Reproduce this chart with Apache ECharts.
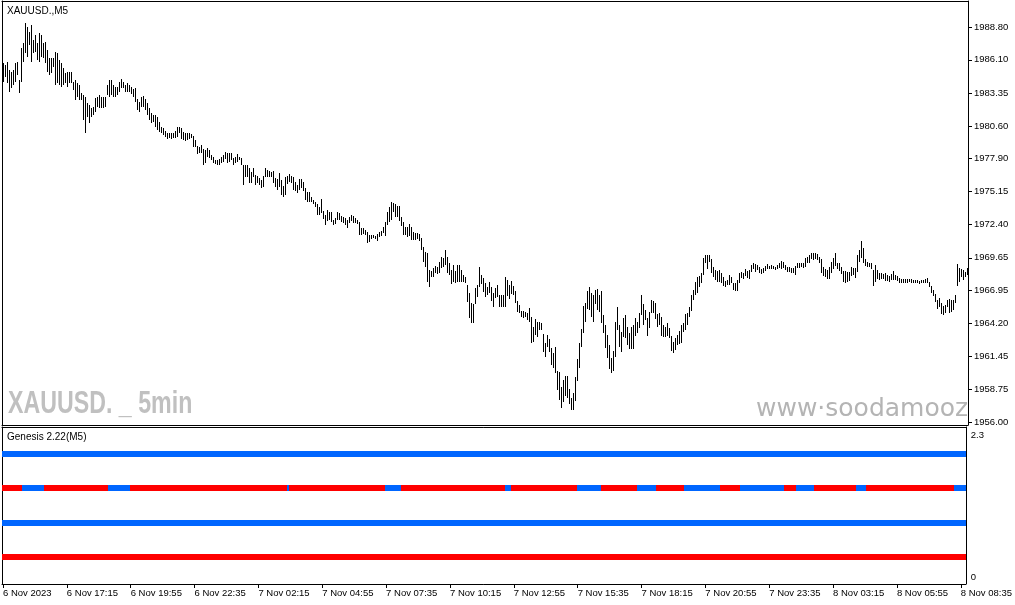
<!DOCTYPE html>
<html><head><meta charset="utf-8">
<script src="https://cdn.jsdelivr.net/npm/echarts@6/dist/echarts.min.js"></script>
<style>html,body{margin:0;padding:0;background:#fff}#c{width:1015px;height:605px}</style>
</head><body><div id="c"></div>
<script>
const symbolTitle = 'XAUUSD.,M5';
const indicatorTitle = 'Genesis 2.22(M5)';
const watermarkLeft = 'XAUUSD. _ 5min';
const watermarkRight = 'www\u00b7soodamooz';

const xTickEvery = 32;
const xTickLabels = ['6 Nov 2023','6 Nov 17:15','6 Nov 19:55','6 Nov 22:35','7 Nov 02:15','7 Nov 04:55',
  '7 Nov 07:35','7 Nov 10:15','7 Nov 12:55','7 Nov 15:35','7 Nov 18:15','7 Nov 20:55','7 Nov 23:35',
  '8 Nov 03:15','8 Nov 05:55','8 Nov 08:35'];
const priceTicks = [1956.00,1958.75,1961.45,1964.20,1966.95,1969.65,1972.40,1975.15,1977.90,1980.60,1983.35,1986.10,1988.80];
const priceMin = 1955.75, priceMax = 1990.99;
const indicatorTicks = [0, 2.3];

const barHigh = [
1985.81,1985.67,1985.95,1985.25,1985.11,1985.25,1985.81,1985.95,1984.42,1987.05,
1987.47,1989.13,1988.85,1988.44,1988.99,1987.75,1988.16,1987.47,1988.30,1988.16,
1987.47,1987.61,1986.91,1986.22,1986.22,1986.22,1986.78,1986.64,1986.08,1985.81,
1985.39,1984.98,1985.11,1985.11,1985.11,1984.28,1984.42,1984.14,1984.01,1983.31,
1983.18,1983.04,1982.48,1982.34,1982.07,1982.21,1982.90,1983.04,1983.18,1983.04,
1983.04,1983.04,1984.01,1984.42,1984.42,1984.01,1983.81,1983.87,1984.28,1984.48,
1984.28,1984.01,1984.14,1984.01,1983.81,1983.65,1983.73,1982.82,1982.62,1983.04,
1983.09,1982.82,1982.48,1982.07,1981.65,1981.51,1981.51,1981.37,1980.96,1980.54,
1980.41,1980.21,1979.99,1979.99,1980.05,1979.99,1980.21,1980.54,1980.54,1980.41,
1980.13,1979.99,1980.05,1979.99,1979.93,1979.77,1979.44,1978.94,1978.88,1979.02,
1978.66,1978.60,1978.74,1978.60,1978.19,1978.05,1977.77,1977.77,1977.83,1978.00,
1978.19,1978.47,1978.38,1978.38,1978.38,1977.91,1978.00,1978.27,1978.05,1977.91,
1977.36,1977.36,1977.36,1977.08,1976.80,1977.08,1976.53,1976.44,1976.25,1976.11,
1976.44,1977.08,1976.94,1976.89,1976.80,1976.89,1976.25,1976.17,1976.72,1976.11,
1975.61,1976.39,1976.44,1976.61,1976.44,1976.33,1975.97,1975.70,1976.17,1976.17,
1975.97,1975.42,1975.14,1975.14,1974.73,1974.45,1974.31,1974.12,1973.90,1974.51,
1973.56,1973.20,1973.62,1973.48,1973.48,1972.79,1972.93,1973.48,1973.34,1973.12,
1973.06,1972.93,1972.79,1973.06,1973.20,1973.12,1972.93,1972.79,1972.65,1972.10,
1972.10,1971.96,1971.82,1971.54,1971.54,1971.54,1971.46,1971.62,1971.82,1971.90,
1972.23,1972.65,1973.48,1973.90,1974.31,1974.17,1974.12,1973.95,1973.95,1973.06,
1972.65,1972.23,1972.23,1972.46,1972.18,1971.82,1971.74,1971.68,1971.62,1971.26,
1970.57,1970.15,1970.02,1968.63,1968.58,1968.77,1968.96,1968.85,1969.32,1969.68,
1969.60,1970.29,1969.68,1969.18,1968.63,1969.05,1968.58,1969.05,1969.05,1968.63,
1968.22,1968.08,1967.38,1966.75,1965.86,1965.81,1967.11,1967.38,1968.85,1968.22,
1967.94,1967.52,1967.25,1967.66,1967.25,1966.69,1967.11,1967.38,1966.55,1966.55,
1966.55,1968.02,1967.80,1967.38,1967.74,1967.30,1966.91,1966.08,1965.72,1965.25,
1965.25,1965.17,1965.09,1965.45,1964.70,1963.92,1964.53,1964.34,1964.34,1964.25,
1963.31,1962.59,1963.23,1962.87,1962.12,1961.71,1962.26,1960.27,1960.18,1958.94,
1959.49,1959.82,1959.82,1958.71,1957.97,1958.38,1959.71,1961.21,1962.54,1963.70,
1965.64,1965.86,1966.91,1967.19,1966.69,1966.55,1966.97,1967.02,1966.55,1966.89,
1964.90,1964.07,1963.23,1962.40,1961.30,1961.93,1964.34,1965.53,1964.07,1963.51,
1964.62,1964.90,1963.93,1963.37,1963.93,1964.07,1964.62,1964.34,1965.03,1966.56,
1965.81,1965.31,1964.62,1965.17,1966.14,1966.09,1965.87,1964.98,1965.03,1964.76,
1964.07,1963.93,1964.20,1963.79,1963.15,1962.68,1962.96,1963.23,1963.59,1964.07,
1964.20,1964.98,1965.09,1965.53,1966.56,1966.97,1967.67,1968.03,1968.14,1968.36,
1969.61,1969.88,1969.88,1969.88,1969.52,1968.91,1968.64,1968.58,1968.64,1968.41,
1968.08,1967.75,1967.80,1968.22,1968.03,1967.53,1967.53,1967.80,1968.41,1968.50,
1968.36,1968.69,1968.58,1968.64,1969.05,1969.19,1969.13,1969.05,1968.86,1968.69,
1968.77,1968.97,1969.13,1968.97,1969.05,1968.97,1968.91,1969.05,1969.25,1969.41,
1969.33,1969.05,1968.91,1968.86,1968.77,1968.77,1968.97,1969.24,1969.19,1969.19,
1969.24,1969.60,1969.74,1969.88,1970.08,1970.08,1970.02,1969.96,1969.74,1969.52,
1968.91,1968.69,1968.63,1968.91,1969.33,1969.60,1970.02,1969.19,1969.24,1968.91,
1968.58,1968.58,1968.50,1968.50,1968.91,1968.77,1968.77,1969.88,1970.30,1971.07,
1970.44,1969.52,1969.33,1969.24,1969.19,1968.63,1969.05,1968.63,1968.41,1968.41,
1968.30,1968.36,1968.22,1968.14,1968.30,1968.58,1968.22,1968.14,1967.94,1967.86,
1967.86,1967.86,1967.86,1967.86,1967.86,1967.80,1967.80,1967.80,1967.75,1967.80,
1967.80,1967.86,1967.94,1967.67,1967.31,1966.97,1966.64,1966.14,1966.28,1965.86,
1965.64,1965.73,1966.14,1966.20,1966.14,1966.14,1966.56,1969.13,1968.77,1968.69,
1968.63,1968.50,1968.77
];
const barLow = [
1984.28,1984.70,1984.14,1983.45,1983.73,1984.01,1984.28,1984.84,1983.31,1984.28,
1985.95,1986.64,1986.36,1987.33,1985.95,1986.64,1986.78,1986.08,1985.95,1986.36,
1986.22,1985.81,1985.11,1984.84,1984.98,1985.53,1984.01,1984.14,1984.01,1983.87,
1984.01,1984.14,1983.87,1984.14,1984.14,1983.59,1982.76,1983.04,1982.76,1982.76,
1981.10,1979.99,1981.37,1980.82,1981.37,1981.51,1981.79,1982.21,1982.07,1982.07,
1982.07,1982.21,1983.18,1983.04,1983.18,1983.04,1983.04,1983.18,1983.45,1983.73,
1983.73,1983.45,1983.45,1983.45,1983.26,1983.04,1982.62,1981.93,1981.79,1982.21,
1982.21,1981.93,1981.51,1981.10,1980.82,1980.96,1980.54,1980.27,1980.13,1979.99,
1979.85,1979.66,1979.49,1979.57,1979.49,1979.57,1979.57,1979.71,1979.99,1979.49,
1979.44,1979.38,1979.44,1979.49,1979.57,1978.88,1978.88,1978.27,1978.33,1978.33,
1977.36,1977.50,1978.05,1977.91,1977.77,1977.50,1977.44,1977.36,1977.36,1977.50,
1977.64,1977.83,1977.50,1977.64,1977.77,1977.36,1977.50,1977.64,1977.77,1977.36,
1975.70,1976.39,1976.39,1975.83,1975.83,1976.39,1975.70,1975.83,1975.70,1975.42,
1975.50,1976.33,1976.39,1976.33,1976.33,1975.83,1975.56,1975.28,1975.50,1974.87,
1974.73,1974.87,1975.78,1975.97,1975.89,1975.28,1975.23,1975.00,1975.28,1975.42,
1975.23,1974.45,1974.31,1974.31,1974.31,1974.12,1973.90,1973.20,1973.20,1973.34,
1972.84,1972.37,1972.73,1972.79,1972.65,1972.37,1972.46,1972.79,1972.79,1972.65,
1972.57,1972.37,1972.10,1972.57,1972.73,1972.51,1972.57,1972.46,1971.54,1971.54,
1971.62,1971.54,1970.90,1970.99,1971.18,1971.26,1971.18,1971.07,1971.35,1971.46,
1971.74,1971.46,1972.37,1972.65,1972.79,1973.48,1973.06,1973.01,1972.73,1972.29,
1971.54,1971.54,1971.40,1971.46,1971.13,1971.13,1971.13,1971.18,1971.07,1970.29,
1969.32,1968.91,1967.66,1967.25,1968.08,1968.08,1968.35,1968.30,1968.41,1968.77,
1968.91,1969.05,1968.35,1968.22,1967.47,1967.66,1967.58,1967.66,1967.66,1967.66,
1967.66,1967.52,1966.00,1964.61,1964.20,1964.20,1965.81,1966.36,1967.19,1967.47,
1966.83,1966.36,1966.55,1966.75,1966.08,1965.53,1966.28,1966.36,1965.58,1965.58,
1965.58,1965.58,1966.47,1966.19,1966.64,1966.55,1965.92,1965.17,1965.03,1964.75,
1964.61,1964.70,1964.48,1964.34,1962.59,1962.68,1963.23,1963.04,1963.64,1963.64,
1961.84,1961.37,1962.26,1961.84,1960.74,1960.46,1960.10,1958.66,1957.83,1957.14,
1957.69,1958.16,1957.97,1957.50,1957.00,1957.00,1957.77,1959.43,1960.46,1962.26,
1963.37,1964.34,1965.36,1965.31,1964.75,1964.34,1965.81,1965.31,1965.17,1964.20,
1963.37,1962.13,1961.30,1960.38,1960.10,1960.27,1961.43,1963.65,1962.21,1961.85,
1963.10,1962.96,1962.40,1962.04,1962.04,1962.04,1963.15,1963.37,1963.79,1964.90,
1964.07,1964.48,1963.15,1963.79,1965.09,1965.03,1964.54,1963.93,1964.07,1963.15,
1963.10,1963.10,1963.15,1962.96,1961.93,1961.77,1961.99,1962.40,1962.49,1962.54,
1963.51,1963.65,1964.07,1964.76,1965.26,1966.14,1966.56,1966.70,1967.20,1967.53,
1968.22,1969.25,1968.69,1969.33,1968.36,1968.08,1967.80,1967.67,1967.67,1967.53,
1967.31,1967.25,1967.39,1967.39,1967.58,1966.97,1966.92,1966.92,1967.53,1967.94,
1967.86,1968.14,1967.94,1967.86,1968.50,1968.69,1968.50,1968.64,1968.41,1968.30,
1968.36,1968.58,1968.69,1968.69,1968.69,1968.69,1968.64,1968.69,1968.77,1968.69,
1968.77,1968.63,1968.50,1968.50,1968.36,1968.36,1968.22,1968.77,1968.77,1968.86,
1968.77,1968.91,1969.19,1969.19,1969.52,1969.47,1969.52,1969.47,1969.24,1968.36,
1968.14,1968.03,1967.86,1967.86,1968.36,1968.69,1968.97,1968.69,1968.58,1968.30,
1967.67,1967.58,1967.67,1967.75,1968.14,1968.22,1967.94,1968.50,1969.33,1969.60,
1969.19,1968.97,1968.91,1968.86,1968.69,1967.31,1967.67,1967.86,1967.80,1967.86,
1967.86,1967.75,1967.75,1967.67,1967.80,1967.80,1967.80,1967.75,1967.58,1967.53,
1967.58,1967.58,1967.58,1967.64,1967.58,1967.53,1967.58,1967.53,1967.47,1967.53,
1967.58,1967.53,1967.53,1967.25,1966.70,1966.47,1966.00,1965.37,1965.59,1964.98,
1964.90,1965.03,1965.53,1965.09,1965.17,1965.31,1965.86,1967.31,1967.67,1968.03,
1967.80,1968.03,1968.22
];

// Genesis indicator: four rows, each a list of runs [firstBar, lastBar, state] (1 = up/blue, 0 = down/red)
const genesisLevels = [1.9, 1.4, 0.9, 0.4];
const genesisRow1 = [[0,482,1]];
const genesisRow2 = [[0,9,0],[10,20,1],[21,52,0],[53,63,1],[64,142,0],[143,143,1],[144,191,0],[192,199,1],
  [200,251,0],[252,254,1],[255,287,0],[288,299,1],[300,317,0],[318,327,1],[328,341,0],[342,359,1],[360,369,0],
  [370,391,1],[392,397,0],[398,406,1],[407,427,0],[428,432,1],[433,476,0],[477,482,1]];
const genesisRow3 = [[0,482,1]];
const genesisRow4 = [[0,482,0]];

const FONT = 'Liberation Sans';
const UP = '#0066FF', DOWN = '#FF0000';

const n = Math.min(barHigh.length, barLow.length);
const cats = barHigh.slice(0, n).map((_, i) => String(i));
const barData = [];
for (let i = 0; i < n; i++) barData.push([i, barLow[i], barHigh[i]]);
const genesisData = [];
[genesisRow1, genesisRow2, genesisRow3, genesisRow4].forEach((row, r) => {
  row.forEach(run => genesisData.push([run[0], run[1], genesisLevels[r], run[2]]));
});

const chart = echarts.init(document.getElementById('c'), null, {renderer: 'canvas'});
const hiddenCat = (gi, pos) => ({
  type: 'category', gridIndex: gi, position: pos, data: cats, boundaryGap: true,
  axisLine: {show: true, onZero: false, lineStyle: {color: '#000', width: 1}},
  axisTick: {show: false}, axisLabel: {show: false}, splitLine: {show: false}
});
const hiddenVal = (gi, mn, mx) => ({
  type: 'value', gridIndex: gi, position: 'left', min: mn, max: mx,
  axisLine: {show: true, onZero: false, lineStyle: {color: '#000', width: 1}},
  axisTick: {show: false}, axisLabel: {show: false}, splitLine: {show: false}
});
const tickFn = (idx) => idx % xTickEvery === 0;

chart.setOption({
  animation: false,
  backgroundColor: '#fff',
  grid: [
    {left: 2, top: 1, width: 966, height: 424, show: false},
    {left: 2, top: 427, width: 966, height: 157, show: false}
  ],
  xAxis: [
    hiddenCat(0, 'bottom'),
    hiddenCat(0, 'top'),
    {
      type: 'category', gridIndex: 1, position: 'bottom', data: cats, boundaryGap: true,
      axisLine: {show: true, onZero: false, lineStyle: {color: '#000', width: 1}},
      axisTick: {show: true, alignWithLabel: true, interval: tickFn, length: 4, lineStyle: {color: '#000'}},
      axisLabel: {
        show: true, interval: tickFn, hideOverlap: false, align: 'left', margin: 4,
        fontFamily: FONT, fontSize: 9.5, color: '#000',
        formatter: (v, idx) => (idx % xTickEvery === 0 && xTickLabels[idx / xTickEvery]) || ''
      },
      splitLine: {show: false}
    },
    hiddenCat(1, 'top')
  ],
  yAxis: [
    {
      type: 'value', gridIndex: 0, position: 'right', min: priceMin, max: priceMax,
      axisLine: {show: true, onZero: false, lineStyle: {color: '#000', width: 1}},
      axisTick: {show: true, customValues: priceTicks, length: 4, lineStyle: {color: '#000'}},
      axisLabel: {show: true, customValues: priceTicks, margin: 6, fontFamily: FONT, fontSize: 9.5, color: '#000',
        formatter: v => Number(v).toFixed(2)},
      splitLine: {show: false}
    },
    hiddenVal(0, priceMin, priceMax),
    {
      type: 'value', gridIndex: 1, position: 'right', min: indicatorTicks[0], max: indicatorTicks[1],
      axisLine: {show: true, onZero: false, lineStyle: {color: '#000', width: 1}},
      axisTick: {show: false},
      axisLabel: {show: true, customValues: indicatorTicks, margin: 5, fontFamily: FONT, fontSize: 9.5, color: '#000',
        formatter: v => (v === indicatorTicks[0] ? '{lo|' : '{hi|') + v + '}',
        rich: {
          hi: {padding: [16, 0, 0, 0], fontFamily: FONT, fontSize: 9.5, color: '#000'},
          lo: {padding: [0, 0, 14, 0], fontFamily: FONT, fontSize: 9.5, color: '#000'}
        }},
      splitLine: {show: false}
    },
    hiddenVal(1, indicatorTicks[0], indicatorTicks[1])
  ],
  graphic: [
    {type: 'text', x: 7, y: 11, z: 10, style: {text: symbolTitle, fontFamily: FONT, fontSize: 10, fill: '#000', verticalAlign: 'middle'}},
    {type: 'text', x: 7, y: 437, z: 10, style: {text: indicatorTitle, fontFamily: FONT, fontSize: 10, fill: '#000', verticalAlign: 'middle'}},
    {type: 'text', x: 8, y: 404, scaleX: 0.725, z: -5, style: {text: watermarkLeft, fontFamily: FONT, fontWeight: 'bold', fontSize: 32, fill: '#c0c0c0', verticalAlign: 'middle'}},
    {type: 'text', x: 756, y: 409, z: -5, style: {text: watermarkRight, fontFamily: 'DejaVu Sans', fontSize: 25, fill: '#b4b4b4', verticalAlign: 'middle'}}
  ],
  series: [
    {
      type: 'custom', name: 'XAUUSD', xAxisIndex: 0, yAxisIndex: 0, data: barData,
      encode: {x: 0, y: [1, 2]},
      renderItem: (params, api) => {
        const i = api.value(0);
        const pL = api.coord([i, api.value(1)]);
        const pH = api.coord([i, api.value(2)]);
        const x = Math.round(pL[0]);
        const yT = Math.round(pH[1]);
        const yB = Math.round(pL[1]);
        return {type: 'rect', shape: {x: x, y: yT, width: 1, height: Math.max(1, yB - yT)}, style: {fill: '#000'}};
      }
    },
    {
      type: 'custom', name: 'Genesis', xAxisIndex: 2, yAxisIndex: 2, data: genesisData,
      encode: {x: [0, 1], y: 2},
      renderItem: (params, api) => {
        const s = api.value(0), e = api.value(1), lv = api.value(2);
        const band = api.size([1, 0])[0];
        const p0 = api.coord([s, lv]);
        const p1 = api.coord([e, lv]);
        const x0 = Math.round(p0[0] - band / 2);
        const x1 = Math.round(p1[0] + band / 2);
        const yc = Math.round(p0[1]);
        return {type: 'rect', shape: {x: x0, y: yc - 3, width: x1 - x0, height: 6},
          style: {fill: api.value(3) ? UP : DOWN}};
      }
    }
  ]
});
</script>
</body></html>
